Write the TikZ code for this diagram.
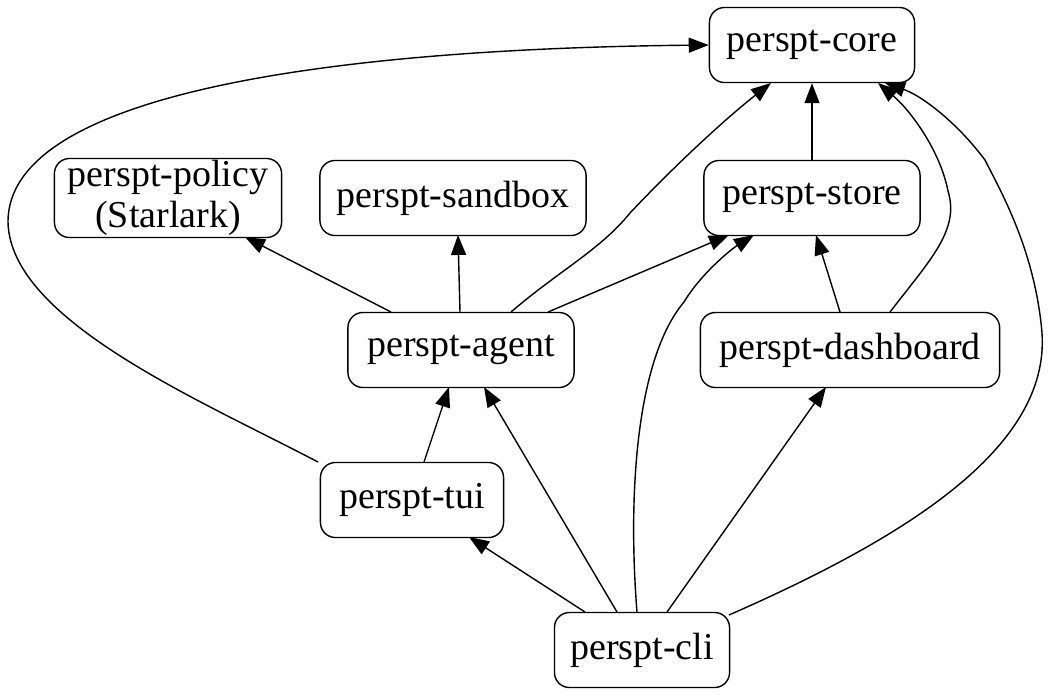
\documentclass[tikz,border=0pt]{standalone}
\usepackage{fontspec}
\setmainfont{Liberation Serif}
\usetikzlibrary{arrows.meta}

\tikzset{
  crate/.style={draw, rounded corners=0.15cm, minimum height=0.75cm, align=center,
    font=\fontsize{10.8}{11.5}\selectfont, inner sep=0pt},
  dep/.style={-{Triangle[length=0.2cm,width=0.15cm]}}
}

\begin{document}
\begin{tikzpicture}[x=0.01cm, y=-0.01cm]
  \useasboundingbox (0,0) rectangle (1051,696);

  % Crates
  \node[crate, minimum width=2.05cm] (core) at (812,45) {perspt-core};
  \node[crate, minimum width=2.27cm, minimum height=0.79cm] (policy) at (168,198) {perspt-policy\\(Starlark)};
  \node[crate, minimum width=2.66cm] (sandbox) at (453,198) {perspt-sandbox};
  \node[crate, minimum width=2.16cm] (store) at (812,198) {perspt-store};
  \node[crate, minimum width=2.26cm] (agent) at (461,350) {perspt-agent};
  \node[crate, minimum width=2.99cm] (dashboard) at (850,350) {perspt-dashboard};
  \node[crate, minimum width=1.83cm] (tui) at (412,500) {perspt-tui};
  \node[crate, minimum width=1.75cm] (cli) at (642,650) {perspt-cli};

  % Straight dependencies
  \draw[dep] (store.north) -- (core.south);
  \draw[dep] (391,312) -- (245,237);
  \draw[dep] (460,312) -- (458,235);
  \draw[dep] (548,312) -- (729,235);
  \draw[dep] (840,312) -- (816,235);
  \draw[dep] (424,462) -- (449,387);
  \draw[dep] (585,612) -- (469,537);
  \draw[dep] (617,612) -- (484,387);
  \draw[dep] (667,612) -- (826,387);

  % Curved dependencies
  \draw[dep] (318,462) .. controls (200,400) and (10,320) .. (8,222)
    .. controls (8,80) and (400,48) .. (core.west);
  \draw[dep] (511,312) .. controls (560,270) and (600,250) .. (630,213)
    .. controls (680,160) and (730,115) .. (771,83);
  \draw[dep] (637,612) .. controls (628,500) and (635,360) .. (684,302)
    .. controls (700,275) and (730,250) .. (754,235);
  \draw[dep] (890,312) .. controls (930,260) and (960,230) .. (948,191)
    .. controls (940,150) and (910,110) .. (878,83);
  \draw[dep] (729,615) .. controls (900,540) and (1050,450) .. (1042,333)
    .. controls (1035,250) and (1000,190) .. (985,160)
    .. controls (955,120) and (920,95) .. (885,83);
\end{tikzpicture}
\end{document}
